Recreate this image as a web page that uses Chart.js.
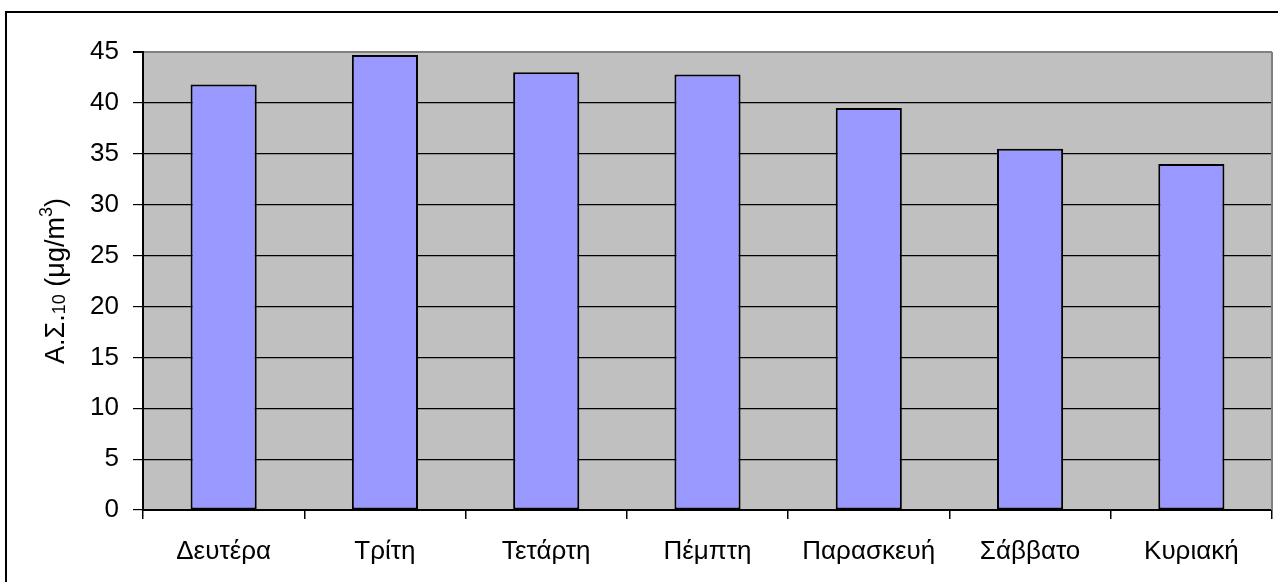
<!DOCTYPE html>
<html>
<head>
<meta charset="utf-8">
<script src="https://cdn.jsdelivr.net/npm/chart.js@4/dist/chart.umd.min.js"></script>
<style>
    body{ margin:0; background:#FFFFFF; overflow:hidden; }
    #graphDays{ display:block; }
</style>
</head>
<body>
<canvas id="graphDays" width="1278" height="582"></canvas>
<script>
const days = ['Δευτέρα', 'Τρίτη', 'Τετάρτη', 'Πέμπτη', 'Παρασκευή', 'Σάββατο', 'Κυριακή'];
const pm10 = [41.8, 44.7, 43.0, 42.8, 39.5, 35.5, 34.0];
const y_min = 0;
const y_max = 45;
const y_step = 5;


window.addEventListener("load", function(){

    Chart.defaults.font.family = "'Liberation Sans', Arial, sans-serif";
    Chart.defaults.font.size = 26;
    Chart.defaults.color = '#000000';

    buildGraph();
});


// gray plot area, frame round the picture and the y title with sub/superscript
const chartDecor = {
    id: 'chartDecor',
    beforeDraw(chart){
        const ctx = chart.ctx;
        const area = chart.chartArea;
        ctx.save();
        ctx.fillStyle = '#C0C0C0';
        ctx.fillRect(area.left, area.top, area.right - area.left, area.bottom - area.top);
        ctx.restore();
    },
    afterDraw(chart){
        const ctx = chart.ctx;
        const area = chart.chartArea;
        ctx.save();

        ctx.strokeStyle = '#808080';
        ctx.lineWidth = 2;
        ctx.beginPath();
        ctx.moveTo(area.right, area.top);
        ctx.lineTo(area.right, area.bottom);
        ctx.stroke();

        ctx.strokeStyle = '#000000';
        ctx.lineWidth = 2;
        ctx.strokeRect(6, 12, 1400, 700);

        drawTitle(ctx, 64, (area.top + area.bottom) / 2);
        ctx.restore();
    }
};


function drawTitle(ctx, x, y){

    const parts = [
        {text: 'Α.Σ.', size: 27, shift: 0},
        {text: '10', size: 18, shift: 1},
        {text: ' (μg/m', size: 27, shift: 0},
        {text: '3', size: 18, shift: -12},
        {text: ')', size: 27, shift: 0}
    ];

    let total = 0;
    for(let i = 0; i < parts.length; i++){
        ctx.font = `${parts[i].size}px 'Liberation Sans', Arial, sans-serif`;
        parts[i].width = ctx.measureText(parts[i].text).width;
        total += parts[i].width;
    };

    ctx.translate(x, y);
    ctx.rotate(-Math.PI / 2);
    ctx.fillStyle = '#000000';
    ctx.textBaseline = 'alphabetic';
    ctx.textAlign = 'left';

    let pos = -total / 2;
    for(let i = 0; i < parts.length; i++){
        ctx.font = `${parts[i].size}px 'Liberation Sans', Arial, sans-serif`;
        ctx.fillText(parts[i].text, pos, parts[i].shift);
        pos += parts[i].width;
    };
};


function buildGraph(){

    const canvasDays = document.getElementById('graphDays').getContext('2d');
    let graphDays = new Chart(canvasDays, {

        type: 'bar',

        data: {
            labels: days,
            datasets: [{
                label: 'Α.Σ.10',
                backgroundColor: '#9999FF',
                borderColor: '#000000',
                borderWidth: 2,
                borderSkipped: false,
                barPercentage: 0.41,
                categoryPercentage: 1,
                data: pm10
            }]
        },
        options:{
            responsive: false,
            animation: false,
            layout:{
                padding:{
                    left: 0,
                    right: 6,
                    top: 52,
                    bottom: 0
                }
            },
            scales:{
                y:{
                    min: y_min,
                    max: y_max,
                    ticks:{
                        stepSize: y_step,
                        padding: 14,
                        color: '#000000'
                    },
                    grid:{
                        color: (ctx) => ctx.tick && ctx.tick.value === y_max ? '#808080' : '#000000',
                        lineWidth: (ctx) => ctx.tick && ctx.tick.value === y_max ? 2 : 1.2,
                        tickColor: '#000000',
                        tickLength: 10
                    },
                    border:{
                        color: '#000000',
                        width: 2
                    },
                    afterFit: function(scale){
                        scale.width = 143;
                    }
                },
                x:{
                    ticks:{
                        padding: 17,
                        color: '#000000'
                    },
                    grid:{
                        offset: true,
                        drawOnChartArea: false,
                        color: '#000000',
                        lineWidth: 1.5,
                        tickLength: 9
                    },
                    border:{
                        color: '#000000',
                        width: 2
                    },
                    afterFit: function(scale){
                        scale.height = 72;
                    }
                }
            },
            plugins:{
                legend:{
                    display: false
                },
                tooltip:{
                    enabled: false
                }
            }
        },
        plugins: [chartDecor]
    });
};
</script>
</body>
</html>
